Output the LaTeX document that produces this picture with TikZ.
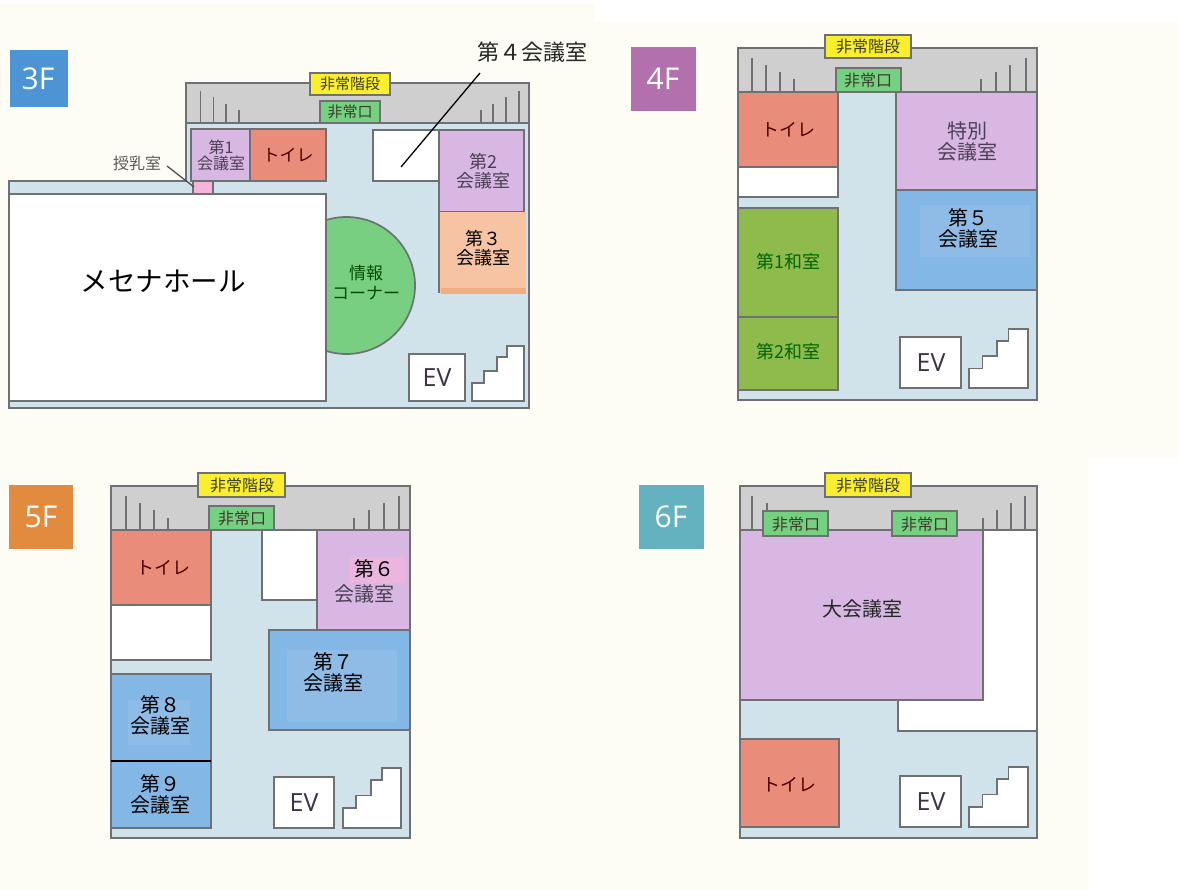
\documentclass[tikz,border=0pt]{standalone}
\usepackage{fontspec}
\setmainfont{Noto Sans CJK JP}
\newfontfamily\latinf{Open Sans}
\definecolor{paper}{HTML}{FDFDF5}
\definecolor{wallc}{HTML}{6E7074}
\definecolor{floorc}{HTML}{D1E3EA}
\definecolor{greyc}{HTML}{CFCFD0}
\definecolor{purplec}{HTML}{D8B8E3}
\definecolor{toiletc}{HTML}{E98D7A}
\definecolor{yellowc}{HTML}{FBEE2E}
\definecolor{exitc}{HTML}{75D081}
\definecolor{bluec}{HTML}{83B8E6}
\definecolor{blueinner}{HTML}{8EBCE6}
\definecolor{peachc}{HTML}{F6C4A3}
\definecolor{peachd}{HTML}{EFAD80}
\definecolor{pinkc}{HTML}{F4B4DC}
\definecolor{greenc}{HTML}{8EBB4B}
\definecolor{circc}{HTML}{78CF82}
\definecolor{softtext}{HTML}{4B3F55}
\definecolor{signc}{HTML}{3C3C28}
\definecolor{tagblue}{HTML}{4C94D4}
\definecolor{tagpurple}{HTML}{B271AD}
\definecolor{tagorange}{HTML}{E08B3E}
\definecolor{tagteal}{HTML}{64B1C0}
\tikzset{
  wall/.style={draw=wallc,line width=1.7pt},
  tick/.style={draw=wallc,line width=1.6pt},
  roomtext/.style={align=center,text=softtext,inner sep=0pt},
  darktext/.style={align=center,text=black,inner sep=0pt},
  tagtext/.style={text=white,inner sep=0pt,font=\latinf\fontsize{30}{30}\selectfont},
  evtext/.style={text=softtext!80!black,inner sep=0pt,font=\latinf\fontsize{25}{25}\selectfont},
  signtext/.style={text=signc,inner sep=0pt,font=\fontsize{16}{16}\selectfont},
  leader/.style={draw=black,line width=1.3pt}
}
% rectangle with wall outline: x1 y1 x2 y2 fill
\newcommand{\rbox}[5]{\path[wall,fill=#5] (#1,#2) rectangle (#3,#4);}
% stairs: x1 y1 x2 y2
\newcommand{\stairsat}[4]{%
  \pgfmathsetmacro{\stxa}{#1+.23*(#3-#1)}%
  \pgfmathsetmacro{\stxb}{#1+.48*(#3-#1)}%
  \pgfmathsetmacro{\stxc}{#1+.67*(#3-#1)}%
  \pgfmathsetmacro{\stya}{#4-.33*(#4-#2)}%
  \pgfmathsetmacro{\styb}{#4-.54*(#4-#2)}%
  \pgfmathsetmacro{\styc}{#4-.80*(#4-#2)}%
  \path[wall,fill=white]
    (#1,#4)--(#1,\stya)--(\stxa,\stya)--(\stxa,\styb)--(\stxb,\styb)--(\stxb,\styc)--(\stxc,\styc)--(\stxc,#2)--(#3,#2)--(#3,#4)--cycle;}
% vertical ticks: list of x/top, base y
\newcommand{\ticks}[2]{\foreach \tx/\ty in {#1}{\path[tick] (\tx,\ty)--(\tx,#2);}}
\newcommand{\fs}[1]{\fontsize{#1}{#1}\selectfont}
\begin{document}
\begin{tikzpicture}[x=1pt,y=-1pt]
\useasboundingbox (0,0) rectangle (1180,890);
\fill[white] (0,0) rectangle (1180,890);
\fill[paper] (0,3) rectangle (595,458);
\fill[paper] (595,22) rectangle (1180,458);
\fill[paper] (0,458) rectangle (1088,890);

%% ---------- 3F
\fill[tagblue] (10,50) rectangle (68,107);
\node[tagtext] (tag3) at (38,79) {3F};
\path[wall,fill=greyc] (186,83) rectangle (529,123);
\path[wall,fill=floorc] (186,123)--(529,123)--(529,408)--(9,408)--(9,181)--(186,181)--cycle;
\ticks{200.5/91,213.5/97,226/104,239/110,481/110,493/104,506/97,519/91}{123}
\rbox{191}{129}{250}{181}{purplec}
\rbox{250}{129}{326}{181}{toiletc}
\rbox{373}{130}{439}{181}{white}
\rbox{439}{130}{524}{212}{purplec}
\fill[peachc] (439,212) rectangle (526,293);
\fill[peachd] (441,288) rectangle (526,294);
\draw[wall] (439,212)--(439,293);
\path[draw=wallc,line width=1.7pt,fill=circc] (346.5,285.5) circle [radius=68.5];
\rbox{9}{194}{326}{401}{white}
\rbox{193}{181}{213}{194}{pinkc}
\rbox{409}{354}{465}{401}{white}
\stairsat{472}{346}{524}{401}
\node[roomtext,font=\fs{16}] (r1) at (221,155) {第1\\[0pt]会議室};
\node[roomtext,text=black!70!red,font=\fs{17}] (t3) at (288,155) {トイレ};
\node[roomtext,font=\fs{18}] (r2) at (483,171) {第2\\[1pt]会議室};
\node[darktext,font=\fs{18}] (r3) at (483,248) {第３\\[1pt]会議室};
\node[roomtext,text=black!70!green,font=\fs{17}] (info) at (366,283) {情報\\[3pt]コーナー};
\node[darktext,font=\fs{27.5}] (hall) at (163,281) {メセナホール};
\node[evtext] (ev3) at (437,378) {EV};
\path[wall,fill=yellowc] (310,73) rectangle (390,95);
\node[signtext,font=\fs{15}] (s3) at (350,84) {非常階段};
\path[wall,fill=exitc] (320,101) rectangle (380,123);
\node[signtext,font=\fs{15}] (x3) at (350,112) {非常口};
\node[darktext,text=black!85,font=\fs{22}] (l4) at (532,52) {第４会議室};
\coordinate (e4) at (401,167);
\coordinate (s4) at (480,73);
\path[leader] (s4)--(e4);
\node[roomtext,text=black!65,font=\fs{16}] (lm) at (137,163) {授乳室};
\coordinate (em) at (194,187);
\coordinate (sm) at (167,166);
\path[draw=wallc!70!black,line width=1.3pt] (sm)--(em);

%% ---------- 4F
\fill[tagpurple] (631,47) rectangle (696,111);
\node[tagtext] (tag4) at (663,79) {4F};
\path[wall,fill=greyc] (738,48) rectangle (1037,92);
\path[wall,fill=floorc] (738,92) rectangle (1037,400);
\ticks{752/58,766/65,780/72,794/79,981/79,996/72,1010/65,1026/58}{92}
\rbox{738}{92}{838}{167}{toiletc}
\rbox{738}{167}{838}{197}{white}
\rbox{738}{208}{838}{317}{greenc}
\rbox{738}{317}{838}{390}{greenc}
\rbox{896}{92}{1037}{190}{purplec}
\rbox{896}{190}{1037}{290}{bluec}
\fill[blueinner] (920,205) rectangle (1030,257);
\rbox{900}{337}{961}{388}{white}
\stairsat{969}{329}{1028}{388}
\node[roomtext,text=black!70!red,font=\fs{18}] (t4) at (788,130) {トイレ};
\node[roomtext,font=\fs{20}] (sp) at (967,141) {特別\\[1pt]会議室};
\node[darktext,font=\fs{20}] (r5) at (968,228) {第５\\[1pt]会議室};
\node[roomtext,text=black!60!green,font=\fs{18}] (w1) at (788,262) {第1和室};
\node[roomtext,text=black!60!green,font=\fs{18}] (w2) at (788,352) {第2和室};
\node[evtext] (ev4) at (931,363) {EV};
\path[wall,fill=yellowc] (825,35) rectangle (911,58);
\node[signtext] (s4n) at (868,47) {非常階段};
\path[wall,fill=exitc] (836,68) rectangle (901,92);
\node[signtext] (x4) at (868,81) {非常口};

%% ---------- 5F
\fill[tagorange] (9,485) rectangle (73,549);
\node[tagtext] (tag5) at (41,517) {5F};
\path[wall,fill=greyc] (111,486) rectangle (410,530);
\path[wall,fill=floorc] (111,530) rectangle (410,838);
\ticks{126/496,140/503,154/510,168/518,354/518,369/510,384/503,399/496}{530}
\rbox{111}{530}{211}{605}{toiletc}
\rbox{111}{605}{211}{660}{white}
\rbox{262}{530}{317}{600}{white}
\rbox{317}{530}{410}{630}{purplec}
\fill[pinkc!70!purplec] (350,557) rectangle (405,583);
\rbox{269}{630}{410}{730}{bluec}
\fill[blueinner] (287,650) rectangle (397,722);
\rbox{111}{674}{211}{761}{bluec}
\fill[blueinner] (128,700) rectangle (190,745);
\rbox{111}{761}{211}{828}{bluec}
\path[draw=black,line width=1.8pt] (111,761)--(211,761);
\rbox{274}{777}{334}{828}{white}
\stairsat{343}{768}{401}{828}
\node[roomtext,text=black!70!red,font=\fs{18}] (t5) at (163,568) {トイレ};
\node[darktext,font=\fs{20}] (r6a) at (374,569) {第６};
\node[roomtext,font=\fs{20}] (r6b) at (364,594) {会議室};
\node[darktext,font=\fs{20}] (r7) at (333,672) {第７\\[1pt]会議室};
\node[darktext,font=\fs{20}] (r8) at (160,715) {第８\\[1pt]会議室};
\node[darktext,font=\fs{20}] (r9) at (160,794) {第９\\[1pt]会議室};
\node[evtext] (ev5) at (304,803) {EV};
\path[wall,fill=yellowc] (198,473) rectangle (285,497);
\node[signtext] (s5) at (242,485) {非常階段};
\path[wall,fill=exitc] (209,506) rectangle (274,530);
\node[signtext] (x5) at (242,518) {非常口};

%% ---------- 6F
\fill[tagteal] (639,485) rectangle (704,549);
\node[tagtext] (tag6) at (671,517) {6F};
\path[wall,fill=greyc] (740,486) rectangle (1037,530);
\path[wall,fill=floorc] (740,530) rectangle (1037,838);
\ticks{752/496,767/503,983/518,997/510,1011/503,1025/496}{530}
\path[wall,fill=white] (983,530)--(1037,530)--(1037,731)--(898,731)--(898,700)--(983,700)--cycle;
\rbox{740}{530}{983}{700}{purplec}
\rbox{740}{739}{839}{827}{toiletc}
\rbox{900}{776}{961}{827}{white}
\stairsat{969}{767}{1028}{827}
\node[roomtext,text=black!85,font=\fs{20}] (big) at (862,609) {大会議室};
\node[roomtext,text=black!70!red,font=\fs{18}] (t6) at (789,785) {トイレ};
\node[evtext] (ev6) at (931,802) {EV};
\path[wall,fill=yellowc] (825,473) rectangle (911,497);
\node[signtext] (s6) at (868,485) {非常階段};
\path[wall,fill=exitc] (763,511) rectangle (828,536);
\node[signtext] (x6a) at (796,524) {非常口};
\path[wall,fill=exitc] (892,511) rectangle (957,536);
\node[signtext] (x6b) at (925,524) {非常口};
\end{tikzpicture}
\end{document}
